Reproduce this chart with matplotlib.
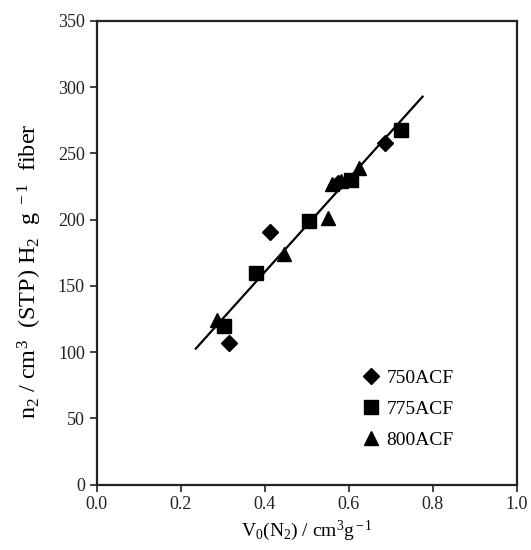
import numpy as np
import matplotlib
matplotlib.use("Agg")
import matplotlib.pyplot as plt

plt.rcParams['font.family'] = ['Liberation Serif', 'DejaVu Serif']
plt.rcParams['mathtext.fontset'] = 'custom'
plt.rcParams['mathtext.rm'] = 'Liberation Serif'
plt.rcParams['mathtext.it'] = 'Liberation Serif:italic'

# 750ACF
x750 = [0.315, 0.412, 0.575, 0.687]
y750 = [107, 191, 228, 258]
# 775ACF
x775 = [0.303, 0.379, 0.506, 0.605, 0.725]
y775 = [120, 160, 199, 230, 268]
# 800ACF
x800 = [0.287, 0.446, 0.552, 0.561, 0.582, 0.625]
y800 = [124, 174, 201, 227, 229, 239]

line_x = [0.236, 0.776]

fig = plt.figure(figsize=(5.31, 5.5), dpi=100)
ax = fig.add_axes([0.182, 0.119, 0.791, 0.843])

ax.plot(x750, y750, 'D', color='black', markersize=8, label='750ACF', linestyle='none')
ax.plot(x775, y775, 's', color='black', markersize=10.5, label='775ACF', linestyle='none')
ax.plot(x800, y800, '^', color='black', markersize=10.5, label='800ACF', linestyle='none')

# linear trend through all points
allx = np.array(x750 + x775 + x800)
ally = np.array(y750 + y775 + y800)
m, b = np.polyfit(allx, ally, 1)
lx = np.array(line_x)
ax.plot(lx, m * lx + b, color='black', linewidth=1.6)

ax.set_xlim(0, 1.0)
ax.set_ylim(0, 350)
ax.set_xticks(np.arange(0, 1.01, 0.2))
ax.set_xticklabels(['0.0', '0.2', '0.4', '0.6', '0.8', '1.0'])
ax.set_yticks(np.arange(0, 351, 50))
ax.tick_params(direction='out', length=5, width=1.2, labelsize=13, colors='#222222')
for s in ax.spines.values():
    s.set_linewidth(1.6)
    s.set_color('#222222')

ax.set_xlabel(r'V$_0$(N$_2$) / cm$^3$g$^{\rm -1}$', fontsize=14)
ax.set_ylabel(r'n$_2$ / cm$^3$  (STP) H$_2$  g $^{\rm -1}$  fiber', fontsize=17.5)
ax.yaxis.set_label_coords(-0.125, 0.46)

ax.legend(loc='upper left', bbox_to_anchor=(0.625, 0.248), frameon=False, fontsize=14,
          handletextpad=0.2, labelspacing=0.68, handlelength=1.2, markerscale=1.0,
          borderpad=0, borderaxespad=0)

fig.savefig('out.png', dpi=100)
